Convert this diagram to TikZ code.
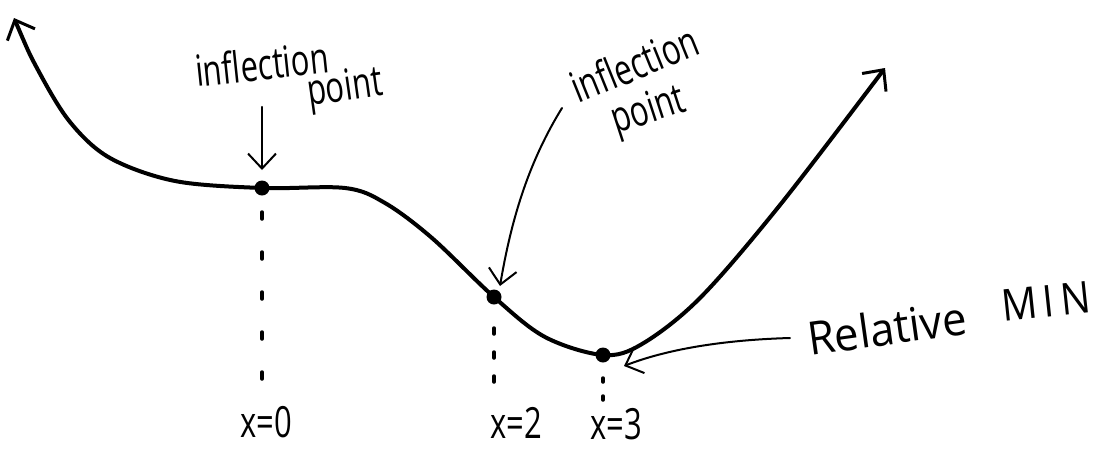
\documentclass[tikz,border=0pt]{standalone}
\usepackage{fontspec}
\newfontfamily\hand[FakeStretch=0.72]{Open Sans}
\newfontfamily\handw[FakeStretch=0.95]{Open Sans}
\newfontfamily\handls[FakeStretch=0.9,LetterSpace=14]{Open Sans}
\usetikzlibrary{arrows.meta}
\begin{document}
\begin{tikzpicture}[x=1pt,y=-1pt,
  curve/.style={line width=4pt,line cap=round,line join=round},
  thin/.style={line width=2pt,line cap=round},
  bigtip/.tip={Straight Barb[length=16pt,width=30pt,line width=3pt]},
  thintip/.style={-{Straight Barb[length=15pt,width=28pt,line width=2pt]}},
  dot/.style={circle,fill=black,inner sep=0pt,minimum size=15pt},
  lab/.style={font=\hand\fontsize{43}{43}\selectfont,inner sep=0pt},
  labw/.style={font=\handw\fontsize{46}{46}\selectfont,inner sep=0pt},
  labs/.style={font=\handls\fontsize{44}{44}\selectfont,inner sep=0pt},
  drop/.style={line width=3.5pt,line cap=round,dash pattern=on 7pt off 33pt}]
\useasboundingbox (0,0) rectangle (1104,448);

% key points
\node[dot] (p0) at (262,188) {};
\node[dot] (p2) at (494,297) {};
\node[dot] (p3) at (603,355) {};

% main curve
\draw[curve,bigtip-bigtip]
  plot[smooth,tension=0.55] coordinates {(14,18) (38,70) (70,122) (110,158) (175,181) (262,188) (345,188) (385,203) (432,238) (494,297) (545,337) (603,355) (642,344) (700,298) (780,205) (885,68)};

% labels
\node[lab,anchor=base west,rotate=6] (inf1) at (197,87) {inflection};
\node[lab,anchor=base west,rotate=8] (pt1) at (309,106) {point};
\node[lab,anchor=base west,rotate=22] (inf2) at (578,104) {inflection};
\node[lab,anchor=base west,rotate=18] (pt2) at (616,134) {point};
\node[labw,anchor=base west,rotate=8] (rel) at (810,356) {Relative};
\node[labs,anchor=base west,rotate=6] (min) at (1003,322) {MIN};

\node[lab,anchor=base] (x0) at (266,437) {x=0};
\node[lab,anchor=base] (x2) at (516,438) {x=2};
\node[lab,anchor=base] (x3) at (616,439) {x=3};

% pointer arrows
\coordinate (a1) at (262,107);
\coordinate (e1) at (262,170);
\draw[thin,line width=2.5pt,thintip] (a1) -- (e1);
\coordinate (a2) at (562,108);
\coordinate (e2) at (500,286);
\draw[thin,thintip] (a2) .. controls (530,160) and (512,215) .. (e2);
\coordinate (a3) at (790,338);
\coordinate (e3) at (624,366);
\draw[thin,thintip] (a3) .. controls (720,340) and (665,350) .. (e3);

% drop lines
\draw[drop] (262,212) -- (262,398);
\draw[drop,dash pattern=on 6pt off 18pt] (494,328) -- (494,394);
\draw[drop,dash pattern=on 4pt off 14pt] (603,378) -- (603,400);
\end{tikzpicture}
\end{document}
